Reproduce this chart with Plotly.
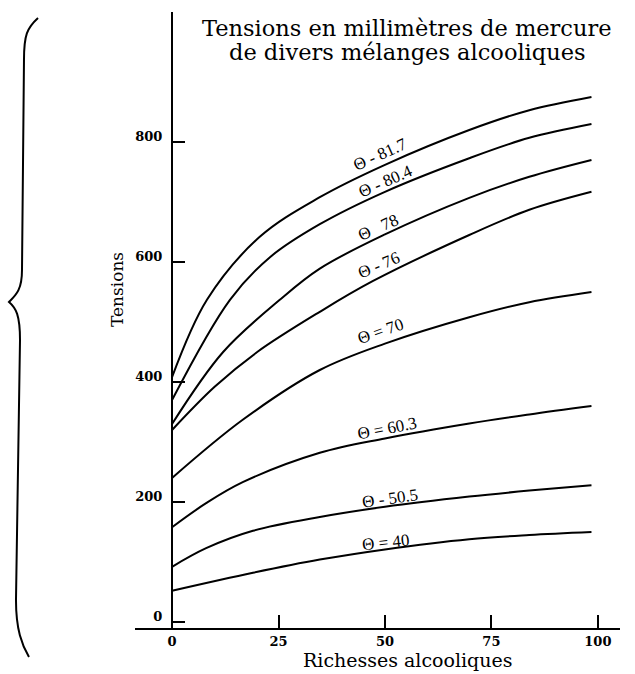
import plotly.graph_objects as go

# ---- data ----
curve_names = ["Θ - 81.7", "Θ - 80.4", "Θ   78", "Θ - 76", "Θ = 70", "Θ = 60.3", "Θ - 50.5", "Θ = 40"]

x_817 = [0, 8.2, 20.6, 34.7, 50, 69.8, 83.9, 98.5]
y_817 = [408, 537, 642, 708, 762, 820, 853, 875]

x_804 = [0, 13.6, 23, 34.7, 50, 69.8, 83.9, 98.5]
y_804 = [370, 537, 608, 663, 717, 773, 807, 830]

x_78 = [0, 12, 25.3, 34.7, 50, 69.8, 83.9, 98.5]
y_78 = [330, 450, 537, 589, 646, 707, 742, 770]

x_76 = [0, 10, 20, 34.7, 47.1, 69.8, 83.9, 98.5]
y_76 = [320, 392, 450, 517, 568, 645, 687, 717]

x_70 = [0, 16.6, 34.7, 50, 69.8, 83.9, 98.5]
y_70 = [240, 337, 420, 464, 508, 533, 550]

x_603 = [0, 8, 16.6, 34.7, 50, 69.8, 83.9, 98.5]
y_603 = [158, 198, 233, 282, 306, 331, 346, 360]

x_505 = [0, 8, 19, 34.7, 50, 69.8, 83.9, 98.5]
y_505 = [92, 123, 152, 175, 192, 209, 219, 228]

x_40 = [0, 19, 34.7, 50, 69.8, 83.9, 98.5]
y_40 = [52, 82, 104, 121, 138, 145, 150]

x_ticks = [0, 25, 50, 75, 100]
y_ticks = [0, 200, 400, 600, 800]

series = [(x_817, y_817), (x_804, y_804), (x_78, y_78), (x_76, y_76),
          (x_70, y_70), (x_603, y_603), (x_505, y_505), (x_40, y_40)]

# ---- layout geometry (pixels) ----
W, H = 635, 674
L, R, T, B = 135, 620, 12, 628

def px(x):
    return (x - L) / (R - L)

def py(y):
    return (B - y) / (B - T)

fig = go.Figure()
for (xs, ys), name in zip(series, curve_names):
    fig.add_trace(go.Scatter(x=xs, y=ys, mode="lines", name=name,
                             line=dict(color="black", width=2, shape="spline", smoothing=1.0),
                             hoverinfo="skip", showlegend=False))

serif = "Liberation Serif"
dserif = "DejaVu Serif"

# curve labels
label_pos = [(380, 155, -24), (385, 181, -24), (378, 227, -24), (378, 265, -23),
             (380, 332, -19), (387, 428, -11), (390, 498, -8), (385, 542, -6)]
annotations = []
for name, (lx, ly, ang) in zip(curve_names, label_pos):
    annotations.append(dict(x=px(lx), y=py(ly), xref="paper", yref="paper", text=name,
                            showarrow=False, textangle=ang, xanchor="center", yanchor="middle",
                            font=dict(family=serif, size=17, color="black")))

# title (two lines)
annotations.append(dict(x=px(407), y=py(28), xref="paper", yref="paper",
                        text="Tensions en millimètres de mercure",
                        showarrow=False, xanchor="center", yanchor="middle",
                        font=dict(family=dserif, size=22.5, color="black")))
annotations.append(dict(x=px(407), y=py(52), xref="paper", yref="paper",
                        text="de divers mélanges alcooliques",
                        showarrow=False, xanchor="center", yanchor="middle",
                        font=dict(family=dserif, size=22.5, color="black")))
# axis titles
annotations.append(dict(x=px(408), y=py(673), xref="paper", yref="paper",
                        text="Richesses alcooliques", showarrow=False,
                        xanchor="center", yanchor="bottom",
                        font=dict(family=dserif, size=19, color="black")))
annotations.append(dict(x=px(117), y=py(290), xref="paper", yref="paper",
                        text="Tensions", showarrow=False, textangle=-90,
                        xanchor="center", yanchor="middle",
                        font=dict(family=dserif, size=17, color="black")))

# decorative brace on the left
def P(x, y):
    return f"{px(x):.4f},{py(y):.4f}"

brace = (f"M {P(38,18)} C {P(27,28)} {P(24,35)} {P(24,60)} "
         f"L {P(22,270)} C {P(22,290)} {P(16,295)} {P(9,302)} "
         f"C {P(16,308)} {P(20,315)} {P(20,340)} "
         f"L {P(16,600)} C {P(16,630)} {P(22,645)} {P(29,657)}")

fig.update_layout(
    width=W, height=H,
    margin=dict(l=L, r=W - R, t=T, b=H - B, pad=0),
    paper_bgcolor="white", plot_bgcolor="white",
    annotations=annotations,
    shapes=[dict(type="path", path=brace, xref="paper", yref="paper",
                 line=dict(color="black", width=2))],
    xaxis=dict(range=[-8.7, 105.2], tickvals=x_ticks, ticktext=[str(v) for v in x_ticks],
               showgrid=False, zeroline=False, showline=True, linecolor="black", linewidth=2,
               ticks="inside", ticklen=13, tickwidth=2, tickcolor="black",
               tickfont=dict(family=dserif, size=13, color="black", weight="bold")),
    yaxis=dict(range=[-10, 1016.7], tickvals=y_ticks, ticktext=[str(v) for v in y_ticks],
               anchor="free", position=(172 - L) / (R - L),
               showgrid=False, zeroline=False, showline=True, linecolor="black", linewidth=2,
               ticks="inside", ticklen=12, tickwidth=2, tickcolor="black",
               ticklabelshift=-6, ticklabelstandoff=6,
               tickfont=dict(family=dserif, size=13, color="black", weight="bold")),
)

fig.write_html("out.html", config={"displayModeBar": False},
               post_script="document.body.style.margin='0px';document.body.style.overflow='hidden';")
